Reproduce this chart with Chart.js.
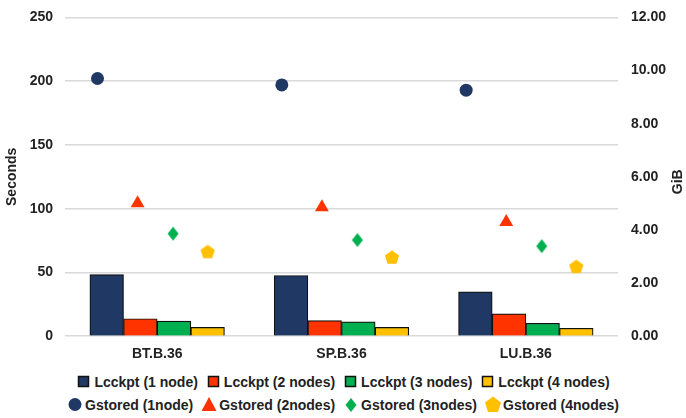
<!DOCTYPE html>
<html lang="en">
<head>
  <meta charset="UTF-8">
  <title>Checkpoint Cost</title>
  <script src="https://cdn.jsdelivr.net/npm/chart.js"></script>
  <style>
    body {
      margin: 0;
      background: #fff;
      font-family: "Liberation Sans", Arial, sans-serif;
    }
    #wrap {
      width: 686px;
      height: 418px;
      position: relative;
      overflow: hidden;
    }
    #chart {
      position: absolute;
      left: 0;
      top: -4px;
    }
    .legend {
      position: absolute;
      left: 0;
      width: 686px;
      display: flex;
      justify-content: center;
      font-weight: bold;
      font-size: 14px;
      color: #222;
    }
    .legend .item {
      display: flex;
      align-items: center;
      margin: 0 4px;
      white-space: nowrap;
    }
    .legend svg {
      margin-right: 2px;
    }
  </style>
</head>
<body>
  <div id="wrap">
    <canvas id="chart" width="686" height="377"></canvas>
    <div class="legend" id="legend1" style="top:373px"></div>
    <div class="legend" id="legend2" style="top:396px"></div>
  </div>

  <script>
    const benchmarks = ['BT.B.36', 'SP.B.36', 'LU.B.36'];

    // Lcckpt, seconds (left axis)
    const lcckpt1 = [48.3, 47.6, 34.8];
    const lcckpt2 = [13.7, 12.3, 17.5];
    const lcckpt3 = [11.8, 11.2, 10.1];
    const lcckpt4 = [6.9, 6.9, 6.2];

    // Gstored, GiB (right axis)
    const gstored1 = [9.70, 9.46, 9.26];
    const gstored2 = [5.00, 4.85, 4.30];
    const gstored3 = [3.86, 3.62, 3.39];
    const gstored4 = [3.19, 2.98, 2.63];

    const barNames = ['Lcckpt (1 node)', 'Lcckpt (2 nodes)', 'Lcckpt (3 nodes)', 'Lcckpt (4 nodes)'];
    const dotNames = ['Gstored (1node)', 'Gstored (2nodes)', 'Gstored (3nodes)', 'Gstored (4nodes)'];
    const colors = ['#203864', '#ff3300', '#00b050', '#ffc000'];

    // share of a category taken by the group of 4 bars
    const groupWidth = 0.73;
    // markers sit a little left of their bar in the original
    const markerShift = [-0.05, -0.015, -0.005, 0];

    function markerCanvas(kind, color) {
      const c = document.createElement('canvas');
      c.width = 16; c.height = 16;
      const g = c.getContext('2d');
      g.fillStyle = color;
      g.beginPath();
      if (kind === 'diamond') {
        g.moveTo(8, 1); g.lineTo(13.5, 8); g.lineTo(8, 15); g.lineTo(2.5, 8);
      } else {
        for (let i = 0; i < 5; i++) {
          const a = -Math.PI / 2 + i * 2 * Math.PI / 5;
          const px = 8 + 7.5 * Math.cos(a), py = 8.8 + 7.5 * Math.sin(a);
          i ? g.lineTo(px, py) : g.moveTo(px, py);
        }
      }
      g.closePath();
      g.fill();
      return c;
    }

    const pointStyles = ['circle', 'triangle', markerCanvas('diamond', colors[2]), markerCanvas('pentagon', colors[3])];
    const pointRadius = [6.5, 8, 8, 8];

    // x offset of slot k inside its category, in category units
    const offset = k => (k - 1.5) * groupWidth / 4;

    const barSeries = [lcckpt1, lcckpt2, lcckpt3, lcckpt4];
    const dotSeries = [gstored1, gstored2, gstored3, gstored4];

    const datasets = [];
    barSeries.forEach((vals, k) => {
      datasets.push({
        type: 'bar',
        label: barNames[k],
        data: vals.map((v, i) => ({ x: i + offset(k), y: v })),
        backgroundColor: colors[k],
        borderColor: '#111',
        borderWidth: 1.2,
        grouped: false,
        categoryPercentage: 1,
        barPercentage: 1,
        xAxisID: 'x2',
        yAxisID: 'y'
      });
    });
    dotSeries.forEach((vals, k) => {
      datasets.push({
        type: 'scatter',
        label: dotNames[k],
        data: vals.map((v, i) => ({ x: i + offset(k) + markerShift[k], y: v })),
        backgroundColor: colors[k],
        borderColor: colors[k],
        borderWidth: 0,
        pointStyle: pointStyles[k],
        pointRadius: pointRadius[k],
        xAxisID: 'x2',
        yAxisID: 'y1'
      });
    });

    const tickFont = { family: 'Liberation Sans', size: 14, weight: 'bold' };

    // right axis title reads bottom-to-top like the left one
    const gibTitle = {
      id: 'gibTitle',
      afterDraw(chart) {
        const ctx = chart.ctx;
        ctx.save();
        ctx.translate(678, (chart.chartArea.top + chart.chartArea.bottom) / 2 + 5);
        ctx.rotate(-Math.PI / 2);
        ctx.font = 'bold 14px "Liberation Sans"';
        ctx.fillStyle = '#222';
        ctx.textAlign = 'center';
        ctx.textBaseline = 'middle';
        ctx.fillText('GiB', 0, 0);
        ctx.restore();
      }
    };

    new Chart(document.getElementById('chart'), {
      type: 'bar',
      data: { labels: benchmarks, datasets: datasets },
      plugins: [gibTitle],
      options: {
        responsive: false,
        animation: false,
        layout: { padding: { top: 2, left: 0, right: 0, bottom: 0 } },
        plugins: {
          legend: { display: false },
          tooltip: { enabled: false }
        },
        scales: {
          x: {
            type: 'category',
            offset: true,
            grid: { display: false, drawTicks: false },
            border: { display: false },
            ticks: { color: '#222', font: tickFont, padding: 10 }
          },
          x2: {
            type: 'linear',
            display: false,
            offset: false,
            min: -0.5,
            max: 2.5
          },
          y: {
            position: 'left',
            min: 0,
            max: 250,
            afterFit: s => { s.width = 65; },
            ticks: { stepSize: 50, color: '#222', font: tickFont, padding: 12 },
            grid: { color: '#d9d9d9', lineWidth: 1.5, drawTicks: false },
            border: { display: false },
            title: { display: true, text: 'Seconds', color: '#222', font: tickFont, padding: { top: 4, bottom: 4 } }
          },
          y1: {
            position: 'right',
            min: 0,
            max: 12,
            afterFit: s => { s.width = 68; },
            ticks: {
              stepSize: 2,
              color: '#222',
              font: tickFont,
              padding: 13,
              callback: v => v.toFixed(2)
            },
            grid: { display: false, drawTicks: false },
            border: { display: false }
          }
        }
      }
    });

    // HTML legend, two rows like the original
    function svgMarker(k, isBar) {
      const c = colors[k];
      let shape;
      if (isBar) {
        shape = `<rect x="2.5" y="3.5" width="10" height="10" fill="${c}" stroke="#111" stroke-width="1.5"/>`;
      } else if (k === 0) {
        shape = `<circle cx="8" cy="8.5" r="6.5" fill="${c}"/>`;
      } else if (k === 1) {
        shape = `<polygon points="8,1 15.5,15 0.5,15" fill="${c}"/>`;
      } else if (k === 2) {
        shape = `<polygon points="8,2 13.5,9 8,16 2.5,9" fill="${c}"/>`;
      } else {
        shape = `<polygon points="8,0.5 16,6.5 13,16 3,16 0,6.5" fill="${c}"/>`;
      }
      return `<svg width="16" height="17" viewBox="0 0 16 17">${shape}</svg>`;
    }
    document.getElementById('legend1').innerHTML =
      barNames.map((n, k) => `<span class="item">${svgMarker(k, true)}${n}</span>`).join('');
    document.getElementById('legend2').innerHTML =
      dotNames.map((n, k) => `<span class="item">${svgMarker(k, false)}${n}</span>`).join('');
  </script>
</body>
</html>
